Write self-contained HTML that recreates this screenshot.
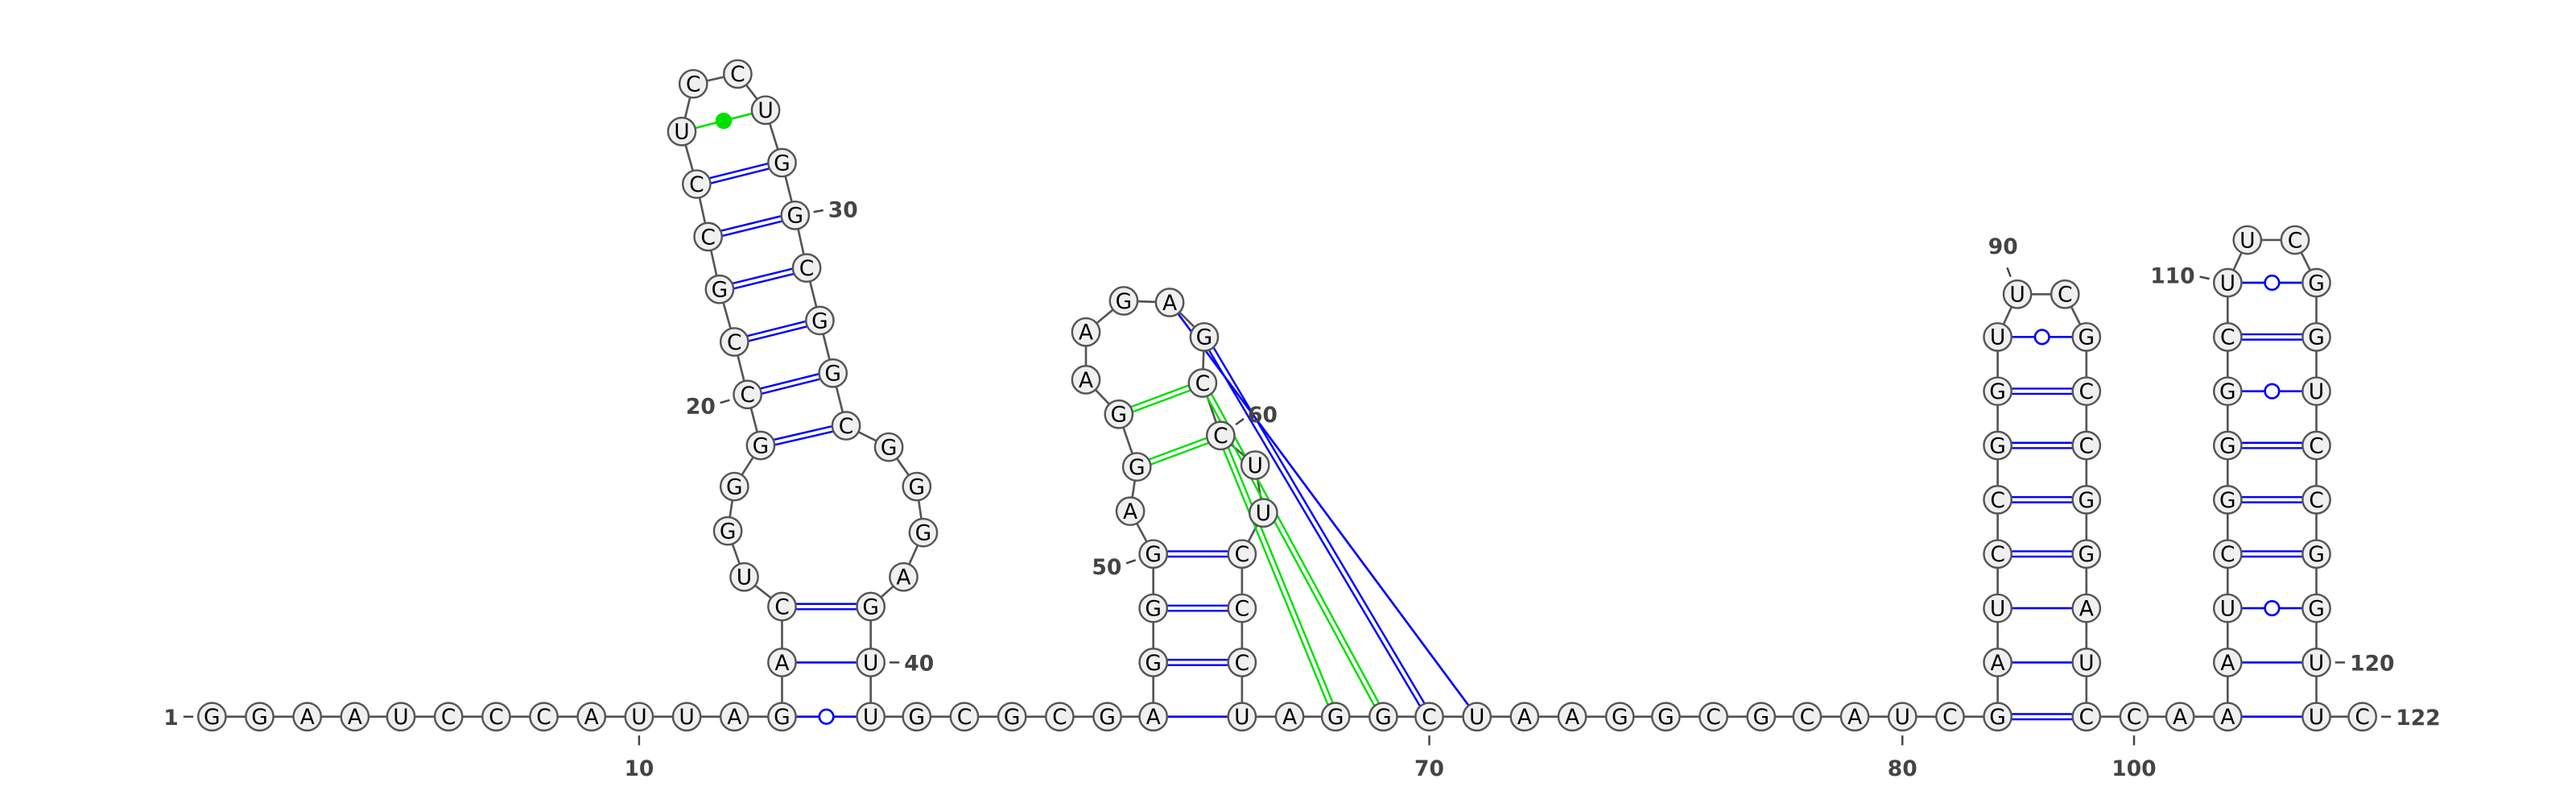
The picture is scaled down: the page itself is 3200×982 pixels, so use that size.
<!DOCTYPE html>
<html><head><meta charset="utf-8"><style>
html,body{margin:0;padding:0;background:#fff;}
svg{display:block;}
text{font-family:"DejaVu Sans","Liberation Sans",sans-serif;}
</style></head><body>
<svg id="rna" width="3200" height="982" viewBox="0 0 1568 481.2" xmlns="http://www.w3.org/2000/svg">
<g id="bb"></g>
<g id="pairs"></g>
<g id="nts"></g>
<g id="labels"></g>
</svg>
<script>
const sequence = "GGAAUCCCAUUAG"+"ACUGGGCCGCCUCCUGGCGGCGGGAGUU"+"GCGCGA"+"GGGAGGAAGAGCCUUCCCU"+"AGGCUAAGGCGCAUCG"+"AUCCGGUUCGCCGGAUCCAA"+"AUCGGGCUUCGGUCCGGUUC";
const posX = [129,158,187,216,244,273,302,331,360,389,418,447,476,476,476,453,443,447,463,455,447,438,431,424,415,422,449,466,476,484,491,499,507,515,541,558,562,550,530,530,530,558,587,616,645,674,702,702,702,702,688,692,681,661,661,684,712,733,732,743,764,769,756,756,756,756,785,813,842,870,899,928,957,986,1014,1043,1072,1100,1129,1158,1187,1216,1216,1216,1216,1216,1216,1216,1216,1228,1257,1270,1270,1270,1270,1270,1270,1270,1270,1299,1327,1356,1356,1356,1356,1356,1356,1356,1356,1356,1368,1397,1410,1410,1410,1410,1410,1410,1410,1410,1410,1438];
const posY = [436,436,436,436,436,436,436,436,436,436,436,436,436,403,369,351,323,296,271,240,208,176,144,112,80,51,45,67,99,131,163,195,227,259,272,296,324,351,369,403,436,436,436,436,436,436,436,403,370,337,311,284,252,231,202,183,184,205,233,265,283,312,337,370,403,436,436,436,436,436,436,436,436,436,436,436,436,436,436,436,436,436,403,370,337,304,271,238,205,179,179,205,238,271,304,337,370,403,436,436,436,436,403,370,337,304,271,238,205,172,146,146,172,205,238,271,304,337,370,403,436,436];
const pairI = [13,14,15,19,20,21,22,23,24,25,47,48,49,50,52,53,57,58,59,60,82,83,84,85,86,87,88,89,102,103,104,105,106,107,108,109,110];
const pairJ = [41,40,39,34,33,32,31,30,29,28,66,65,64,63,60,59,71,70,69,68,99,98,97,96,95,94,93,92,121,120,119,118,117,116,115,114,113];
const pairGreen = [25,52,53,59,60];
const labelNums = [1,10,20,30,40,50,60,70,80,90,100,110,120,122];
const labelDx = [-24,0,-26,22,22,-26,22,0,0,-10,0,-28,22,22];
const labelDy = [0,30,8,-4,0,9,-16,30,30,-26,30,-6,0,0];

const NS="http://www.w3.org/2000/svg";
function mk(tag,attrs,parent){const e=document.createElementNS(NS,tag);for(const k in attrs)e.setAttribute(k,attrs[k]);parent.appendChild(e);return e;}
const bb=document.getElementById('bb'),pg=document.getElementById('pairs'),ng=document.getElementById('nts'),lg=document.getElementById('labels');
const R=8.4;
for(let i=0;i<sequence.length-1;i++){
  const l=mk('line',{x1:posX[i],y1:posY[i],x2:posX[i+1],y2:posY[i+1],stroke:'#555','stroke-width':1.3},bb);
  
  
}
for(let k=0;k<pairI.length;k++){
  const a=pairI[k]-1,b=pairJ[k]-1;
  const x1=posX[a],y1=posY[a],x2=posX[b],y2=posY[b];
  const green=pairGreen.includes(pairI[k]);
  const col=green?'#00e000':'#0000ff';
  const s=sequence[a]+sequence[b];
  const dx=x2-x1,dy=y2-y1,L=Math.hypot(dx,dy),ux=dx/L,uy=dy/L;
  const sx=x1+ux*R,sy=y1+uy*R,ex=x2-ux*R,ey=y2-uy*R;
  const g=mk('g',{},pg);
  
  
  if(s==='GC'||s==='CG'){
    const o=1.6,nx=-uy*o,ny=ux*o;
    mk('line',{x1:sx+nx,y1:sy+ny,x2:ex+nx,y2:ey+ny,stroke:col,'stroke-width':1.2},g);
    mk('line',{x1:sx-nx,y1:sy-ny,x2:ex-nx,y2:ey-ny,stroke:col,'stroke-width':1.2},g);
  } else if(s==='GU'||s==='UG'){
    mk('line',{x1:sx,y1:sy,x2:ex,y2:ey,stroke:col,'stroke-width':1.3},g);
    mk('circle',{cx:(x1+x2)/2,cy:(y1+y2)/2,r:4.3,fill:'#fff',stroke:col,'stroke-width':1.3},g);
  } else if(s==='UU'){
    mk('line',{x1:sx,y1:sy,x2:ex,y2:ey,stroke:col,'stroke-width':1.3},g);
    mk('circle',{cx:(x1+x2)/2,cy:(y1+y2)/2,r:5,fill:col},g);
  } else {
    mk('line',{x1:sx,y1:sy,x2:ex,y2:ey,stroke:col,'stroke-width':1.3},g);
  }
}
for(let i=0;i<sequence.length;i++){
  const g=mk('g',{},ng);
  
  
  mk('circle',{cx:posX[i],cy:posY[i],r:R,fill:'#f0f0f0',stroke:'#555','stroke-width':1.2},g);
  const t=mk('text',{x:posX[i],y:posY[i]+4.6,'text-anchor':'middle','font-size':13,fill:'#000'},g);
  t.textContent=sequence[i];
}
for(let k=0;k<labelNums.length;k++){
  const n=labelNums[k]-1,x=posX[n],y=posY[n],dx=labelDx[k],dy=labelDy[k];
  const g=mk('g',{},lg);
  
  
  const L=Math.hypot(dx,dy),ux=dx/L,uy=dy/L;
  mk('line',{x1:x+ux*(R+3),y1:y+uy*(R+3),x2:x+ux*(R+9),y2:y+uy*(R+9),stroke:'#444','stroke-width':1.2},g);
  let anchor='middle';
  if(Math.abs(dx)>Math.abs(dy)) anchor=dx<0?'end':'start';
  const tx=x+ux*(R+12);
  const ty=y+uy*(R+14)+5;
  const t=mk('text',{x:anchor==='middle'?x+ux*(R+16):tx,y:anchor==='middle'?(dy>0?y+dy+6:y+uy*(R+18)):ty,'text-anchor':anchor,'font-size':13,'font-weight':'bold',fill:'#444'},g);
  t.textContent=labelNums[k];
}
</script>
</body></html>
